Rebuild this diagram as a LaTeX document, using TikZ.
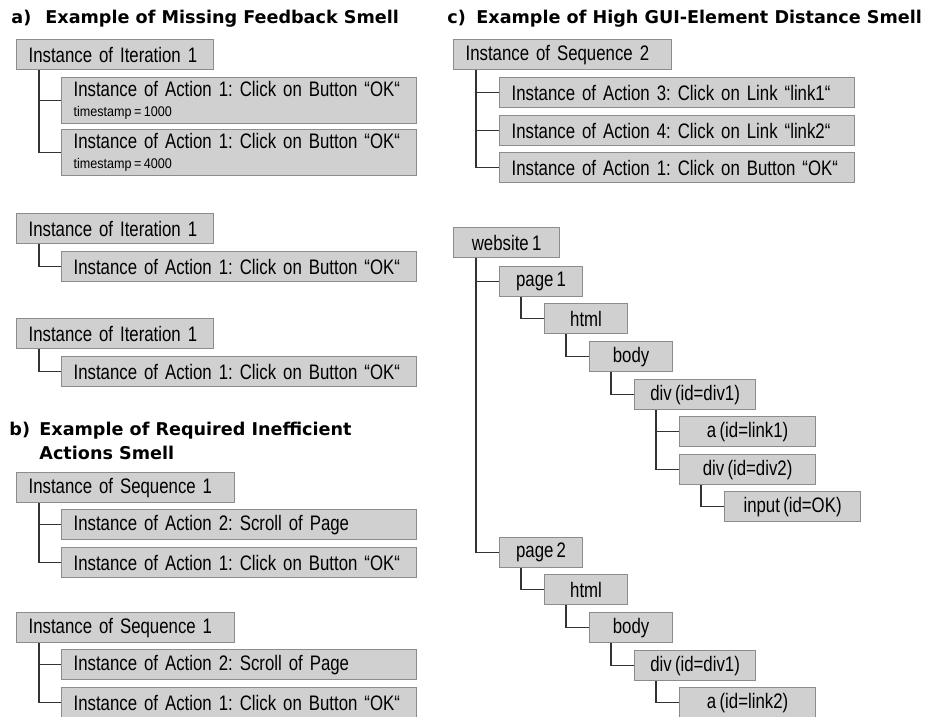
\documentclass[tikz,border=0pt]{standalone}
\usepackage{fontspec}
\setmainfont{Liberation Sans}[FakeStretch=0.8, WordSpace=0.7]
\newfontfamily\titlefont{DejaVu Sans}
\newfontfamily\stampfont{Liberation Sans}[FakeStretch=0.9]
\definecolor{boxfill}{HTML}{D0D0D0}
\definecolor{boxline}{HTML}{8C8C8C}
\definecolor{treeline}{HTML}{333333}
\frenchspacing
\newcommand{\stamp}[1]{{\stampfont\fontsize{7}{7}\selectfont\spaceskip=1.2pt #1}}

\begin{document}
\begin{tikzpicture}[x=0.5pt, y=-0.5pt,
  inst/.style={draw=boxline, fill=boxfill, line width=0.6pt, anchor=north west,
    minimum height=15pt, inner xsep=6pt, inner ysep=0pt, text width=#1, align=left,
    font=\fontsize{10.5}{12}\selectfont},
  elem/.style={draw=boxline, fill=boxfill, line width=0.6pt, anchor=north west,
    minimum height=15pt, minimum width=#1, inner sep=0pt,
    font=\fontsize{10.5}{12}\selectfont},
  ttl/.style={anchor=base west, inner sep=0pt, align=left,
    font=\titlefont\bfseries\fontsize{8.8}{12}\selectfont},
  link/.style={draw=treeline, line width=0.55pt}]
  % 幅の設定 (px -> pt)
  \def\rw{86.5pt}  % Iteration
  \def\sw{97pt}    % Sequence
  \def\cw{165.5pt} % Action
  \useasboundingbox (0,0) rectangle (938,717);

  % 1. a) Missing Feedback
  \node[ttl] (ta) at (11,24) {\makebox[17pt][l]{a)}Example of Missing Feedback Smell};
  \node[inst=\rw] (a1) at (16,39) {Instance of Iteration 1};
  \node[inst=\cw, minimum height=23pt] (a1x) at (61,77)
    {Instance of Action 1: Click on Button “OK“\\[-2.2pt]\stamp{timestamp = 1000}};
  \node[inst=\cw, minimum height=23pt] (a1y) at (61,129)
    {Instance of Action 1: Click on Button “OK“\\[-2.2pt]\stamp{timestamp = 4000}};
  \node[inst=\rw] (a2) at (16,213) {Instance of Iteration 1};
  \node[inst=\cw] (a2x) at (61,251) {Instance of Action 1: Click on Button “OK“};
  \node[inst=\rw] (a3) at (16,318) {Instance of Iteration 1};
  \node[inst=\cw] (a3x) at (61,356) {Instance of Action 1: Click on Button “OK“};

  \draw[link] (a1.south west) ++(23,0) |- (a1x.west);
  \draw[link] (a1.south west) ++(23,0) |- (a1y.west);
  \draw[link] (a2.south west) ++(23,0) |- (a2x.west);
  \draw[link] (a3.south west) ++(23,0) |- (a3x.west);

  % 2. b) Required Inefficient Actions
  \node[ttl] (tb) at (9,459) {\makebox[15pt][l]{b)}Example of Required Inefficient\\\hspace*{15pt}Actions Smell};
  \node[inst=\sw] (b1) at (16,472) {Instance of Sequence 1};
  \node[inst=\cw] (b1x) at (61,509) {Instance of Action 2: Scroll of Page};
  \node[inst=\cw] (b1y) at (61,547) {Instance of Action 1: Click on Button “OK“};
  \node[inst=\sw] (b2) at (16,612) {Instance of Sequence 1};
  \node[inst=\cw] (b2x) at (61,649) {Instance of Action 2: Scroll of Page};
  \node[inst=\cw] (b2y) at (61,687) {Instance of Action 1: Click on Button “OK“};

  \draw[link] (b1.south west) ++(23,0) |- (b1x.west);
  \draw[link] (b1.south west) ++(23,0) |- (b1y.west);
  \draw[link] (b2.south west) ++(23,0) |- (b2x.west);
  \draw[link] (b2.south west) ++(23,0) |- (b2y.west);

  % 3. c) High GUI-Element Distance
  \node[ttl] (tc) at (447,24) {\makebox[14.5pt][l]{c)}Example of High GUI-Element Distance Smell};
  \node[inst=\sw] (c1) at (453,39) {Instance of Sequence 2};
  \node[inst=\cw] (c1x) at (499,77) {Instance of Action 3: Click on Link “link1“};
  \node[inst=\cw] (c1y) at (499,115) {Instance of Action 4: Click on Link “link2“};
  \node[inst=\cw] (c1z) at (499,152) {Instance of Action 1: Click on Button “OK“};

  \draw[link] (c1.south west) ++(23,0) |- (c1x.west);
  \draw[link] (c1.south west) ++(23,0) |- (c1y.west);
  \draw[link] (c1.south west) ++(23,0) |- (c1z.west);

  % 4. GUI 要素の木
  \node[elem=53pt]   (web) at (453,227) {website 1};
  \node[elem=41.5pt] (p1)  at (499,266) {page 1};
  \node[elem=41.5pt] (h1)  at (544,303) {html};
  \node[elem=41.5pt] (bd1) at (589,341) {body};
  \node[elem=60.5pt] (dv1) at (634,379) {div (id=div1)};
  \node[elem=68pt]   (lk1) at (679,416) {a (id=link1)};
  \node[elem=68pt]   (dv2) at (679,454) {div (id=div2)};
  \node[elem=68pt]   (ok)  at (724,491) {input (id=OK)};
  \node[elem=41.5pt] (p2)  at (499,537) {page 2};
  \node[elem=41.5pt] (h2)  at (544,574) {html};
  \node[elem=41.5pt] (bd2) at (589,612) {body};
  \node[elem=60.5pt] (dv3) at (634,650) {div (id=div1)};
  \node[elem=68pt]   (lk2) at (679,687) {a (id=link2)};

  \draw[link] (web.south west) ++(23,0) |- (p1.west);
  \draw[link] (web.south west) ++(23,0) |- (p2.west);
  \draw[link] (p1.south west)  ++(22,0) |- (h1.west);
  \draw[link] (h1.south west)  ++(22,0) |- (bd1.west);
  \draw[link] (bd1.south west) ++(22,0) |- (dv1.west);
  \draw[link] (dv1.south west) ++(22,0) |- (lk1.west);
  \draw[link] (dv1.south west) ++(22,0) |- (dv2.west);
  \draw[link] (dv2.south west) ++(22,0) |- (ok.west);
  \draw[link] (p2.south west)  ++(22,0) |- (h2.west);
  \draw[link] (h2.south west)  ++(22,0) |- (bd2.west);
  \draw[link] (bd2.south west) ++(22,0) |- (dv3.west);
  \draw[link] (dv3.south west) ++(22,0) |- (lk2.west);
\end{tikzpicture}
\end{document}
